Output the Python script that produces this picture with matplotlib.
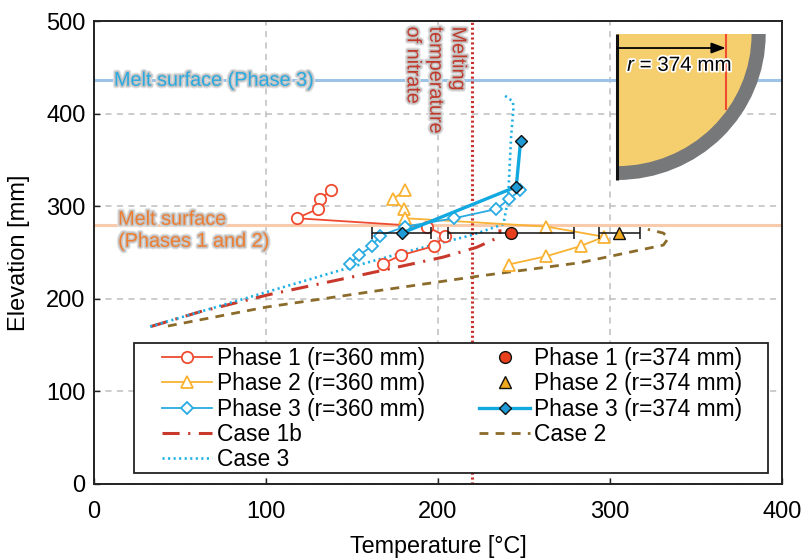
import matplotlib
matplotlib.use("Agg")
import matplotlib.pyplot as plt
import matplotlib.patheffects as pe
from matplotlib.patches import Wedge, Rectangle

plt.rcParams['font.family'] = ['Liberation Sans', 'DejaVu Sans']
plt.rcParams['mathtext.fontset'] = 'custom'
plt.rcParams['mathtext.it'] = 'Liberation Sans:italic'
plt.rcParams['mathtext.rm'] = 'Liberation Sans'

# Phase measurements at r = 360 mm
p1_t = [137.8, 131.4, 130, 118, 193.5, 204, 197.7, 178.5, 168]
p1_e = [317, 308, 297, 287, 278, 268, 257, 247, 238]
p2_t = [181, 174, 180, 181, 263, 296.5, 283, 263, 241]
p2_e = [317, 308, 297, 287, 278, 267, 257, 246, 237]
p3_t = [247.7, 241.5, 234, 209.5, 181, 166, 161.8, 154, 149]
p3_e = [317, 308, 297, 287, 278, 268, 257, 247, 238]

# Phase measurements at r = 374 mm
p1b_t, p1b_e, p1b_lo, p1b_hi = [242.5], [271], [206], [279]
p2b_t, p2b_e, p2b_lo, p2b_hi = [305], [271], [293.6], [317.6]
p3b_t = [248, 245.5, 179]
p3b_e = [370, 321, 271]
p3b_lo, p3b_hi = [161.8], [196]

# Calculations
c1_t = [33, 61.6, 100.5, 158.6, 203, 222.5, 233, 236, 236]
c1_e = [170, 186, 204, 227, 245, 255.6, 264.5, 268, 275]
c2_t = [43, 100, 166, 224, 282.6, 331, 334, 331, 322]
c2_e = [170.6, 191, 209, 224.6, 239, 258, 265.6, 271, 275]
c3_t = [32.6, 149, 179, 220, 238, 240.7, 242.5, 243.8, 243.6, 238.4]
c3_e = [170, 234, 249.5, 269, 280.6, 307, 375, 404, 413, 420]

melt_p3, melt_p12, melt_nitrate = 436, 280, 220
x_ticks = [0, 100, 200, 300, 400]
y_ticks = [0, 100, 200, 300, 400, 500]

W, H = 804, 559
fig = plt.figure(figsize=(W / 100, H / 100), dpi=100)
ax = fig.add_axes([94 / W, 1 - 484 / H, 688 / W, 463 / H])
ax.set_xlim(0, 400)
ax.set_ylim(0, 500)
ax.set_xticks(x_ticks)
ax.set_yticks(y_ticks)
ax.tick_params(direction='in', labelsize=17, length=4, width=1, color='#222222')
ax.tick_params(axis='x', pad=12)
ax.tick_params(axis='y', pad=6)
ax.grid(True, ls=(0, (4, 3.5)), color='#BFBFBF', lw=1.1)
ax.set_axisbelow(True)
for s in ax.spines.values():
    s.set_linewidth(1.4)
    s.set_color('#222222')
ax.set_xlabel('Temperature [°C]', fontsize=16.8, labelpad=9)
ax.set_ylabel('Elevation [mm]', fontsize=17, labelpad=12)

ax.axhline(melt_p3, color='#9DC3E6', lw=2.2, zorder=1.5)
ax.axhline(melt_p12, color='#F8CBAD', lw=2.2, zorder=1.5)
ax.axvline(melt_nitrate, color='#C9302C', lw=2.2, ls=(0, (0.7, 0.9)), zorder=1.6)

RED, ORG, BLU = '#EE4B30', '#F9B233', '#29ABE2'
ms = 8.2
ax.plot(p1_t, p1_e, '-o', color=RED, lw=1.3, ms=ms, mfc='white', mew=1.3, label='Phase 1 (r=360 mm)', zorder=3)
ax.plot(p2_t, p2_e, '-^', color=ORG, lw=1.3, ms=ms + 1, mfc='white', mew=1.3, label='Phase 2 (r=360 mm)', zorder=3)
ax.plot(p3_t, p3_e, '-D', color=BLU, lw=1.3, ms=ms - 1.8, mfc='white', mew=1.3, label='Phase 3 (r=360 mm)', zorder=3)
ax.plot(c1_t, c1_e, color='#C8392B', lw=2.2, ls=(0, (5.6, 2.8, 0.7, 2.8)), label='Case 1b', zorder=2.5)
ax.plot(c3_t, c3_e, color='#1FB0E6', lw=1.9, ls=(0, (0.8, 1.3)), label='Case 3', zorder=2.6)

ax.errorbar([p1b_t[0]], p1b_e, xerr=[[p1b_t[0] - p1b_lo[0]], [p1b_hi[0] - p1b_t[0]]], fmt='none',
            ecolor='#111111', elinewidth=1.1, capsize=4, capthick=1.1, zorder=4)
ax.errorbar([p2b_t[0]], p2b_e, xerr=[[p2b_t[0] - p2b_lo[0]], [p2b_hi[0] - p2b_t[0]]], fmt='none',
            ecolor='#111111', elinewidth=1.1, capsize=4, capthick=1.1, zorder=4)
ax.errorbar([p3b_t[-1]], [p3b_e[-1]], xerr=[[p3b_t[-1] - p3b_lo[0]], [p3b_hi[0] - p3b_t[-1]]], fmt='none',
            ecolor='#111111', elinewidth=1.1, capsize=4, capthick=1.1, zorder=4)
ax.plot(p1b_t, p1b_e, 'o', color='#E8401C', mec='#111111', mew=1, ms=8.5, label='Phase 1 (r=374 mm)', zorder=5)
ax.plot(p2b_t, p2b_e, '^', color='#F0A81E', mec='#111111', mew=1, ms=8.5, label='Phase 2 (r=374 mm)', zorder=5)
ax.plot(p3b_t, p3b_e, '-D', color='#12A8E0', lw=2.4, ms=5.8, mfc='#1E9BD7', mec='#111111', mew=1,
        label='Phase 3 (r=374 mm)', zorder=5)
ax.plot(c2_t, c2_e, color='#8B6B2A', lw=2, ls=(0, (3.2, 2.6)), label='Case 2', zorder=2.4)

glow = [pe.Stroke(linewidth=3.6, foreground='#E2E2E2'), pe.Stroke(linewidth=2.0, foreground='#C4C4C4'), pe.Normal()]
ax.text(11.6, melt_p3, 'Melt surface (Phase 3)', color='#29A9E0', fontsize=14.3, va='center', path_effects=glow, zorder=6)
ax.text(14, 274, 'Melt surface\n(Phases 1 and 2)', color='#ED7D31', fontsize=14.3, va='center', linespacing=1.2,
        path_effects=glow, zorder=6)
ax.text(180, 494, 'Melting\ntemperature\nof nitrate', color='#C0392B', fontsize=14.3, rotation=270, rotation_mode='anchor',
        ha='left', va='bottom', multialignment='left', linespacing=1.24, path_effects=glow, zorder=6)

h, l = ax.get_legend_handles_labels()
order = ['Phase 1 (r=360 mm)', 'Phase 2 (r=360 mm)', 'Phase 3 (r=360 mm)', 'Case 1b', 'Case 3',
         'Phase 1 (r=374 mm)', 'Phase 2 (r=374 mm)', 'Phase 3 (r=374 mm)', 'Case 2']
hd = dict(zip(l, h))
ax.add_patch(Rectangle(((134 - 94) / 688, (484 - 473) / 463), (768 - 134) / 688, 130 / 463, transform=ax.transAxes,
                       fc='white', ec='#222222', lw=1.3, zorder=7))
leg = ax.legend([hd[k] for k in order], order, ncol=2, loc='upper left',
                bbox_to_anchor=((162 - 94) / 688, (484 - 347) / 463), borderaxespad=0,
                fontsize=16.4, frameon=False,
                handlelength=2.2, handletextpad=0.2, columnspacing=2.4, labelspacing=0.1,
                borderpad=0)
leg.set_zorder(8)

# Schematic inset of the tank quadrant
ins = fig.add_axes([617 / W, 1 - 180 / H, 148.7 / W, 146 / H], zorder=8)
ins.set_xlim(0, 1)
ins.set_ylim(-1, 0)
ins.axis('off')
ins.add_patch(Wedge((0, 0), 1, 270, 360, fc='#76787A', ec='none'))
ins.add_patch(Wedge((0, 0), 0.905, 270, 360, fc='#F5CE6E', ec='none'))
ins.plot([0.731, 0.731], [0, -0.52], color='#EE4B30', lw=1.5, solid_capstyle='butt')
ins.plot([0, 0], [0, -1], color='#111111', lw=2.2, solid_capstyle='butt', clip_on=False)
ins.annotate('', xy=(0.731, -0.096), xytext=(0, -0.096),
             arrowprops=dict(arrowstyle='-|>,head_width=0.32,head_length=0.85', color='black', lw=1.3, shrinkA=0, shrinkB=0))
ins.text(0.42, -0.215, '$\\mathit{r}$ = 374 mm', fontsize=14.8, ha='center', va='center',
         color='black', path_effects=[pe.withStroke(linewidth=2.5, foreground='white')])

fig.savefig('out.png', dpi=100)
